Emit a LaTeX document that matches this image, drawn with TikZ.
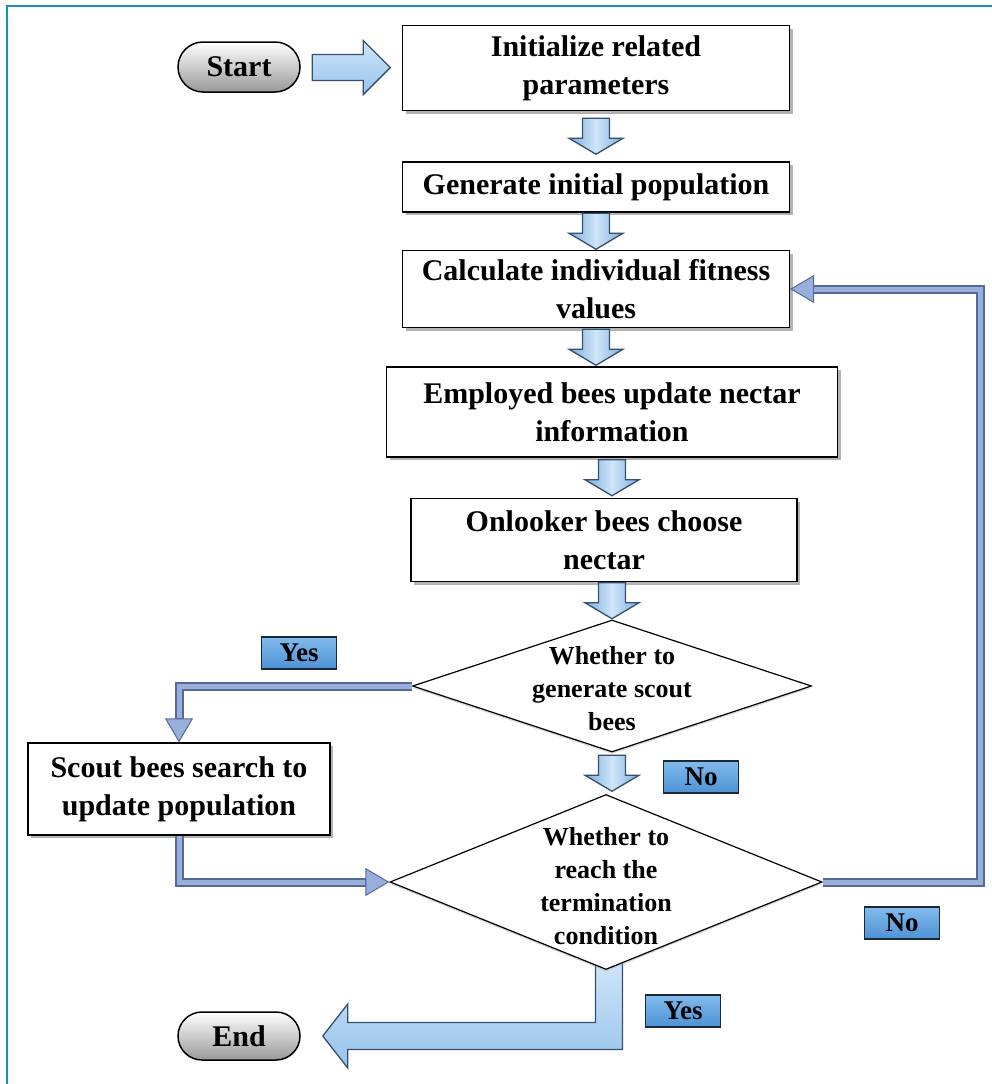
\documentclass[tikz,border=0pt]{standalone}
\usepackage{fontspec}
\setmainfont{Liberation Serif}
\usetikzlibrary{shapes.geometric,shapes.misc,arrows.meta,calc,shadows}
\pgfdeclarelayer{bg}
\pgfsetlayers{bg,main}

\definecolor{frameblue}{HTML}{1E8BC3}
\definecolor{arrowedge}{HTML}{34506E}
\definecolor{arrowlight}{HTML}{CFE5F9}
\definecolor{arrowmid}{HTML}{96C3EC}
\definecolor{arrowdark}{HTML}{7DAEDD}
\definecolor{linkedge}{HTML}{55699A}
\definecolor{linkfill}{HTML}{98AEDB}
\definecolor{tagtop}{HTML}{82BAEC}
\definecolor{tagbot}{HTML}{4D92D5}
\definecolor{tagedge}{HTML}{1B2836}

\tikzset{
  box/.style={draw=black, line width=1.2pt, fill=white, align=center, inner sep=0pt,
    font=\fontsize{30}{38}\selectfont\bfseries,
    drop shadow={shadow xshift=3pt, shadow yshift=-3pt, fill=black!50, opacity=0.6}},
  pill/.style={rounded rectangle, draw=black, line width=1.5pt, top color=white,
    bottom color=black!40, minimum width=122pt, minimum height=50pt, inner sep=0pt,
    font=\fontsize{30}{36}\selectfont\bfseries},
  dia/.style={diamond, draw=black, line width=1.2pt, fill=white, inner sep=0pt,
    drop shadow={shadow xshift=0pt, shadow yshift=-2pt, fill=black!30, opacity=0.5}},
  dtext/.style={align=center, font=\fontsize{26}{33}\selectfont\bfseries},
  tag/.style={draw=tagedge, line width=1.5pt, top color=tagtop, bottom color=tagbot,
    minimum width=75pt, minimum height=32pt, inner sep=0pt,
    font=\fontsize{27}{30}\selectfont\bfseries},
  link/.style={draw=linkedge, line width=9pt, line join=miter,
    -{Triangle[width=28pt,length=24pt,line width=1pt,fill=linkfill]},
    postaction={draw=linkfill, line width=5pt, shorten >=24pt, -}},
  blk/.style={draw=arrowedge, line width=1.3pt, line join=miter},
  vshade/.style={left color=arrowdark, right color=arrowdark, middle color=arrowlight},
  hshade/.style={top color=arrowlight, bottom color=arrowmid},
}

% block arrow pointing down, x taken from #1, centred between #2 and #3
\newcommand\dnarrow[3]{%
  \coordinate (tmpmid) at ($(#2)!0.5!(#3)$);
  \begin{scope}[shift={(tmpmid -| #1)}]
    \path[blk, vshade] (-13.5,-18) -- (13.5,-18) -- (13.5,2) -- (27,2) -- (0,18)
      -- (-27,2) -- (-13.5,2) -- cycle;
  \end{scope}}

\begin{document}
\begin{tikzpicture}[x=1pt, y=-1pt]
\useasboundingbox (0,0) rectangle (992,1084);

% frame
\draw[frameblue, line width=2.5pt, line join=miter] (7,1084) -- (7,6) -- (992,6);

% process boxes
\node[box, minimum width=387pt, minimum height=85pt] (b1) at (596,68) {Initialize related\\parameters};
\node[box, minimum width=387pt, minimum height=50pt] (b2) at (596,187) {Generate initial population};
\node[box, minimum width=387pt, minimum height=77pt] (b3) at (596,289) {Calculate individual fitness\\values};
\node[box, minimum width=451pt, minimum height=90pt] (b4) at (612,412) {Employed bees update nectar\\information};
\node[box, minimum width=386pt, minimum height=83pt] (b5) at (604,540) {Onlooker bees choose\\nectar};
\node[box, minimum width=302pt, minimum height=92pt] (scout) at (179,789) {Scout bees search to\\update population};

% terminals
\node[pill] (start) at (239,67) {Start};
\node[pill, minimum height=48pt] (endn) at (239,1036) {End};

% decisions
\node[dia, minimum width=399pt, minimum height=132pt] (d1) at (612,686) {};
\node[dtext] (d1t) at (612,689) {Whether to\\generate scout\\bees};
\node[dia, minimum width=432pt, minimum height=175pt] (d2) at (606,882) {};
\node[dtext] (d2t) at (606,886) {Whether to\\reach the\\termination\\condition};

% branch labels
\node[tag] (yes1) at (299,653) {Yes};
\node[tag] (no1) at (701,777) {No};
\node[tag] (no2) at (902,923) {No};
\node[tag] (yes2) at (683,1011) {Yes};

% start arrow
\coordinate (sa) at ($(start.east)!0.5!(b1.west)$);
\begin{scope}[shift={(sa)}]
  \path[blk, hshade] (-39,-13) -- (12,-13) -- (12,-27) -- (39,0) -- (12,27)
    -- (12,13) -- (-39,13) -- cycle;
\end{scope}

% main sequence
\dnarrow{b1.south}{b1.south}{b2.north}
\dnarrow{b2.south}{b2.south}{b3.north}
\dnarrow{b3.south}{b3.south}{b4.north}
\dnarrow{b4.south}{b4.south}{b5.north}
\dnarrow{d1.north}{b5.south}{d1.north}
\dnarrow{d1.south}{d1.south}{d2.north}

% branch connectors
\draw[link] (d1.west) -- (scout.north |- d1.west) -- (scout.north);
\draw[link] (scout.south) |- (d2.west);
\draw[link] (d2.east) -- ++(158,0) |- (b3.east);

% exit arrow to End
\coordinate (ea) at ($(d2.south)+(3,0)$);
\coordinate (eb) at ($(endn.east)+(22,0)$);
\begin{pgfonlayer}{bg}
  \path[blk, top color=arrowlight, bottom color=arrowmid]
    ($(ea)+(-13.5,-8)$) -- ($(ea)+(13.5,-8)$) -- ($(ea |- eb)+(13.5,13.5)$)
    -- ($(eb)+(25,13.5)$) -- ($(eb)+(25,32)$) -- (eb) -- ($(eb)+(25,-32)$)
    -- ($(eb)+(25,-13.5)$) -- ($(ea |- eb)+(-13.5,-13.5)$) -- cycle;
\end{pgfonlayer}
\end{tikzpicture}
\end{document}
